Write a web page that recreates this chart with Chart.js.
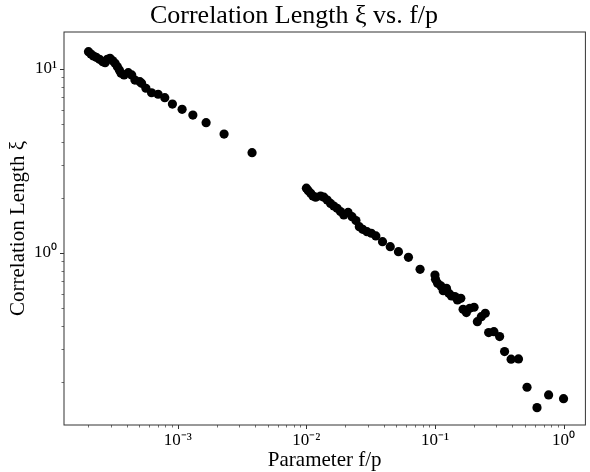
<!DOCTYPE html>
<html>
<head>
<meta charset="utf-8">
<script src="https://cdn.jsdelivr.net/npm/chart.js@4"></script>
<style>
  html, body { margin: 0; padding: 0; background: #fff; }
</style>
</head>
<body>
<canvas id="myChart" width="590" height="472"></canvas>
<script>
// values
const paramFP = [
    2.02e-4, 2.11e-4, 2.21e-4, 2.32e-4, 2.46e-4, 2.61e-4, 2.72e-4, 2.83e-4, 2.97e-4, 3.12e-4,
    3.25e-4, 3.39e-4, 3.51e-4, 3.62e-4, 3.82e-4, 4.12e-4, 4.38e-4, 4.64e-4, 5.07e-4, 5.23e-4,
    5.65e-4, 6.25e-4, 7.03e-4, 7.92e-4, 9.08e-4, 1.08e-3, 1.31e-3, 1.66e-3, 2.29e-3, 3.78e-3,
    0.0100, 0.01035, 0.0108, 0.01125, 0.0118, 0.0129, 0.01368, 0.01452, 0.01542, 0.01634,
    0.01734, 0.01841, 0.01954, 0.0211, 0.02265, 0.0243, 0.0258, 0.0274, 0.0296, 0.0320,
    0.0347, 0.0391, 0.0449, 0.0520, 0.0622, 0.0766,
    0.100, 0.101, 0.1048, 0.1113, 0.1159, 0.1229, 0.1283, 0.1344, 0.1428, 0.1496,
    0.1589, 0.1655, 0.1755, 0.1865, 0.2014, 0.2136, 0.2293, 0.2462, 0.2616, 0.2874,
    0.3183, 0.3478, 0.391, 0.4463, 0.520, 0.6216, 0.7656, 1.0
];
const corrLength = [
    12.42, 12.06, 11.77, 11.58, 11.29, 10.96, 10.82, 11.29, 11.43, 11.09,
    10.74, 10.29, 9.88, 9.48, 9.28, 9.55, 9.28, 8.71, 8.53, 8.36,
    7.86, 7.43, 7.29, 6.98, 6.45, 6.04, 5.62, 5.11, 4.43, 3.51,
    2.25, 2.18, 2.11, 2.04, 2.01, 2.04, 2.01, 1.94, 1.86, 1.80,
    1.75, 1.68, 1.61, 1.66, 1.575, 1.50, 1.39, 1.345, 1.305, 1.28,
    1.237, 1.152, 1.082, 1.016, 0.947, 0.815,
    0.759, 0.719, 0.684, 0.662, 0.624, 0.643, 0.604, 0.584, 0.579, 0.555,
    0.567, 0.494, 0.474, 0.5005, 0.507, 0.423, 0.4505, 0.470, 0.369, 0.3735,
    0.351, 0.291, 0.2645, 0.2653, 0.1862, 0.1443, 0.1692, 0.1615
];
const xLimits = [1.303e-4, 1.479];
const yLimits = [0.1161, 15.89];

const SUP = { "-": "\u207B", "0": "\u2070", "1": "\u00B9", "2": "\u00B2", "3": "\u00B3" };
function powLabel(v) {
    const e = Math.log10(v);
    if (Math.abs(e - Math.round(e)) > 1e-9) return "";
    return "10" + String(Math.round(e)).split("").map((c) => SUP[c]).join("");
}
function logTicks(scale) {
    const t = [];
    for (let e = -6; e <= 3; e++) {
        for (let s = 1; s < 10; s++) {
            const v = s * Math.pow(10, e);
            if (v >= scale.min && v <= scale.max) t.push({ value: v, major: s === 1 });
        }
    }
    scale.ticks = t;
}

// frame + matplotlib style tick marks
const framePlugin = {
    id: "frame",
    afterDraw(chart) {
        const ctx = chart.ctx;
        const a = chart.chartArea;
        ctx.save();
        ctx.strokeStyle = "#333";
        ctx.lineWidth = 1;
        ctx.strokeRect(a.left, a.top, a.right - a.left, a.bottom - a.top);
        const xs = chart.scales.x, ys = chart.scales.y;
        xs.ticks.forEach((t) => {
            const px = Math.round(xs.getPixelForValue(t.value)) + 0.5;
            ctx.lineWidth = t.major ? 1 : 0.7;
            ctx.beginPath();
            ctx.moveTo(px, a.bottom);
            ctx.lineTo(px, a.bottom + (t.major ? 4 : 2.5));
            ctx.stroke();
        });
        ys.ticks.forEach((t) => {
            const py = Math.round(ys.getPixelForValue(t.value)) + 0.5;
            ctx.lineWidth = t.major ? 1 : 0.7;
            ctx.beginPath();
            ctx.moveTo(a.left, py);
            ctx.lineTo(a.left - (t.major ? 4 : 2.5), py);
            ctx.stroke();
        });
        ctx.restore();
    },
};

const serif = "'Liberation Serif', serif";
const ctx = document.getElementById("myChart").getContext("2d");
const myChart = new Chart(ctx, {
    type: "scatter",
    data: {
        datasets: [
            {
                label: "xi",
                data: paramFP.map((x, i) => ({ x: x, y: corrLength[i] })),
                backgroundColor: "#000",
                borderWidth: 0,
                pointRadius: 4.6,
                pointHoverRadius: 4.6,
            },
        ],
    },
    plugins: [framePlugin],
    options: {
        responsive: false,
        animation: false,
        devicePixelRatio: 1,
        layout: { padding: { left: 0, right: 2, top: 0, bottom: 0 } },
        plugins: {
            legend: { display: false },
            tooltip: { enabled: false },
            title: {
                display: true,
                text: "Correlation Length \u03BE vs. f/p",
                color: "#000",
                font: { family: serif, size: 26, weight: "normal" },
                padding: { top: 0.5, bottom: 0.3 },
            },
        },
        scales: {
            x: {
                type: "logarithmic",
                min: xLimits[0],
                max: xLimits[1],
                afterBuildTicks: logTicks,
                afterFit(scale) { scale.height = 47; },
                grid: { display: true, drawOnChartArea: false, drawTicks: false },
                border: { display: false },
                ticks: {
                    autoSkip: false,
                    maxRotation: 0,
                    padding: 5,
                    color: "#000",
                    font: { family: serif, size: 17 },
                    callback: (v) => powLabel(v),
                },
                title: {
                    display: true,
                    text: "Parameter f/p",
                    color: "#000",
                    font: { family: serif, size: 21 },
                    padding: { top: 0, bottom: -1 },
                },
            },
            y: {
                type: "logarithmic",
                min: yLimits[0],
                max: yLimits[1],
                afterBuildTicks: logTicks,
                afterFit(scale) { scale.width = 64; },
                grid: { display: true, drawOnChartArea: false, drawTicks: false },
                border: { display: false },
                ticks: {
                    autoSkip: false,
                    padding: 7,
                    color: "#000",
                    font: { family: serif, size: 17 },
                    callback: (v) => powLabel(v),
                },
                title: {
                    display: true,
                    text: "Correlation Length \u03BE",
                    color: "#000",
                    font: { family: serif, size: 21 },
                    padding: { top: 6, bottom: 0 },
                },
            },
        },
    },
});
</script>
</body>
</html>
